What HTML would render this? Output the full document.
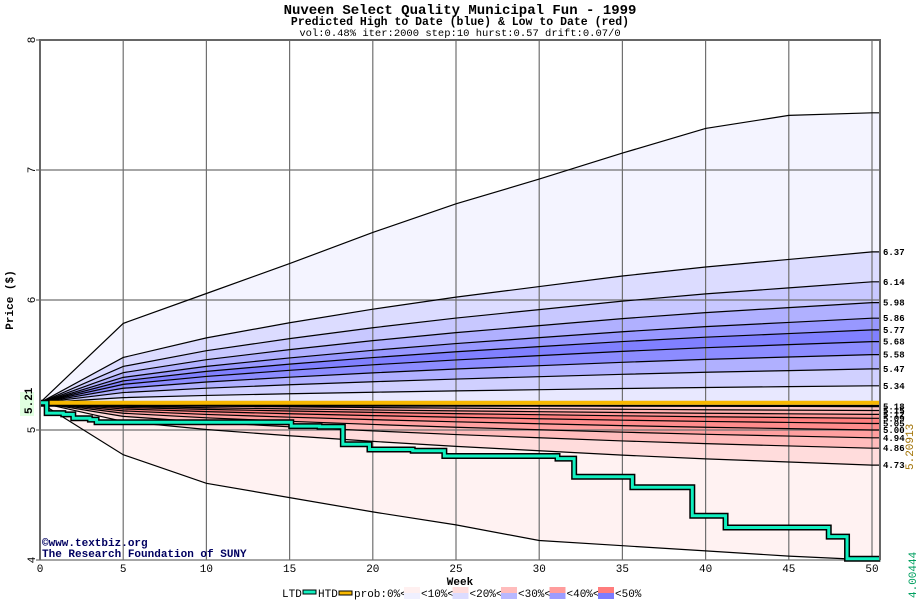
<!DOCTYPE html>
<html><head><meta charset="utf-8"><style>
body{margin:0;background:#fff;width:920px;height:600px;overflow:hidden}
svg text{font-family:"Liberation Mono","DejaVu Sans Mono",monospace}
</style></head><body>
<svg id="chart" width="920" height="600" xmlns="http://www.w3.org/2000/svg">
<text x="460" y="14" text-anchor="middle" font-size="14" font-weight="bold">Nuveen Select Quality Municipal Fun - 1999</text>
<text x="460" y="25" text-anchor="middle" font-size="11.5" font-weight="bold">Predicted High to Date (blue) &amp;  Low to Date (red)</text>
<text x="460" y="36" text-anchor="middle" font-size="10.5">vol:0.48% iter:2000 step:10 hurst:0.57 drift:0.07/0</text>
<g id="bands"></g><g id="grid"></g><g id="curves"></g><g id="series"></g><g id="axes"></g>
<text transform="translate(13,300) rotate(-90)" text-anchor="middle" font-size="11" font-weight="bold">Price ($)</text>
<text x="460" y="585" text-anchor="middle" font-size="11" font-weight="bold">Week</text>
<text x="42" y="546" font-size="11" font-weight="bold" fill="#000060">©www.textbiz.org</text>
<text x="42" y="557" font-size="11" font-weight="bold" fill="#000060">The Research Foundation of SUNY</text>
<rect x="20" y="392" width="14" height="24" fill="#e0ffe0"/>
<text transform="translate(32,414) rotate(-90)" font-size="11" font-weight="bold">5.21</text>
<text transform="translate(913,470) rotate(-90)" font-size="11" fill="#a07000">5.20913</text>
<text transform="translate(916,598) rotate(-90)" font-size="11" fill="#00a060">4.00444</text>
<g id="legend"></g>
</svg>
<script>
const weeks=[0,5,10,15,20,25,30,35,40,45,50];
const maxCurve=[5.21,5.82,6.05,6.28,6.52,6.74,6.93,7.13,7.32,7.42,7.44];
const minCurve=[5.21,4.81,4.59,4.48,4.37,4.27,4.15,4.11,4.07,4.03,4.00];
const shape=[0,0.3,0.43,0.53,0.62,0.7,0.77,0.84,0.9,0.95,1];
const upperEnds=[6.37,6.14,5.98,5.86,5.77,5.68,5.58,5.47,5.34];
const lowerEnds=[5.18,5.15,5.12,5.09,5.05,5.00,4.94,4.86,4.73];
const upperColors=["#f4f4ff","#dcdcff","#c8c8ff","#b0b0ff","#9898ff","#8080ff","#8c8cff","#b0b0ff","#d0d0ff","#e8e8ff"];
const lowerColors=["#ffe8e8","#ffc8c8","#ffb0b0","#ff9898","#ff8080","#ff8c8c","#ffa0a0","#ffbcbc","#ffdcdc","#fff2f2"];
const startPrice=5.21;
const htdValue=5.21;
const ltdWeeks=[0,0.4,1.4,2,3,3.4,15.1,16.8,18.2,19.8,22.4,24.3,31.1,32.1,35.6,39.2,41.2,47.4,48.5,50.5];
const ltdValues=[5.21,5.13,5.12,5.09,5.08,5.06,5.03,5.025,4.89,4.85,4.84,4.80,4.78,4.64,4.56,4.34,4.25,4.18,4.01,4.01];
const yTicks=[4,5,6,7,8];
const xTicks=[0,5,10,15,20,25,30,35,40,45,50];
const legendItems=["0%","<10%","<20%","<30%","<40%","<50%"];
const NS="http://www.w3.org/2000/svg";
const X0=40,X1=880,Y0=40,Y1=560;
const xs=w=>X0+w*(872-X0)/50;
const ys=p=>Y1-(p-4)*(Y1-Y0)/4;
function mk(tag,attrs,parent){const e=document.createElementNS(NS,tag);for(const k in attrs)e.setAttribute(k,attrs[k]);document.getElementById(parent).appendChild(e);return e;}
function curveVals(end){return shape.map(s=>startPrice+(end-startPrice)*s);}
function pts(vals){const p=weeks.map((w,i)=>xs(w)+","+ys(vals[i]));p.push(X1+","+ys(vals[vals.length-1]));return p;}
const upper=[maxCurve].concat(upperEnds.map(curveVals)).concat([weeks.map(()=>startPrice)]);
const lower=[weeks.map(()=>startPrice)].concat(lowerEnds.map(curveVals)).concat([minCurve]);
for(let i=0;i<upper.length-1;i++){
 const a=pts(upper[i]),b=pts(upper[i+1]).reverse();
 const e=mk("polygon",{points:a.concat(b).join(" "),fill:upperColors[i]},"bands");
 
 
}
for(let i=0;i<lower.length-1;i++){
 const a=pts(lower[i]),b=pts(lower[i+1]).reverse();
 const e=mk("polygon",{points:a.concat(b).join(" "),fill:lowerColors[i]},"bands");
 
 
}
xTicks.forEach(t=>{
 const l=mk("line",{x1:xs(t),x2:xs(t),y1:Y0,y2:Y1,stroke:"#707070","stroke-width":1.2},"grid");
 
 
 const tx=mk("text",{x:xs(t),y:572,"text-anchor":"middle","font-size":11},"axes");
 tx.textContent=t;
 
 
});
yTicks.forEach(t=>{
 const l=mk("line",{x1:X0-4,x2:X1,y1:ys(t),y2:ys(t),stroke:"#707070","stroke-width":1.2},"grid");
 
 
 const tx=mk("text",{transform:"translate(35,"+ys(t)+") rotate(-90)","text-anchor":"middle","font-size":11},"axes");
 tx.textContent=t;
 
 
});
upper.slice(0,upper.length-1).concat(lower.slice(1)).forEach((v,i)=>{
 const e=mk("polyline",{points:pts(v).join(" "),fill:"none",stroke:"#000","stroke-width":1.2},"curves");
 
 
});
upperEnds.concat(lowerEnds).forEach((v,i)=>{
 const t=mk("text",{x:883,y:ys(v)+3,"font-size":9,"font-weight":"bold"},"curves");
 t.textContent=v.toFixed(2);
 
 
});
let hl=mk("line",{x1:X0,x2:X1,y1:ys(htdValue)+3,y2:ys(htdValue)+3,stroke:"#000","stroke-width":2},"series");


let h=mk("line",{x1:X0,x2:X1,y1:ys(htdValue),y2:ys(htdValue),stroke:"#f8b800","stroke-width":4},"series");


let ltdPts=[];
ltdWeeks.forEach((w,i)=>{ if(i>0) ltdPts.push(xs(w)+","+ys(ltdValues[i-1])); ltdPts.push(xs(w)+","+ys(ltdValues[i])); });
let lo=mk("polyline",{points:ltdPts.join(" "),fill:"none",stroke:"#000","stroke-width":6},"series");


let li=mk("polyline",{points:ltdPts.join(" "),fill:"none",stroke:"#10f0c0","stroke-width":3},"series");


let ax=mk("path",{d:`M${X0},${Y1} V${Y0} H${X1} V${Y1}`,fill:"none",stroke:"#666","stroke-width":2},"axes");


// legend
const lg=[["LTD",284],["HTD",316]];
let t1=mk("text",{x:282,y:597,"font-size":11},"legend");t1.textContent="LTD";

let r1=mk("rect",{x:303,y:590,width:13,height:4,fill:"#10f0c0",stroke:"#000","stroke-width":1},"legend");

let t2=mk("text",{x:318,y:597,"font-size":11},"legend");t2.textContent="HTD";

let r2=mk("rect",{x:339,y:591,width:13,height:4,fill:"#f8b800",stroke:"#000","stroke-width":1},"legend");

let t3=mk("text",{x:354,y:597,"font-size":11},"legend");t3.textContent="prob:0%<";

const legR=["#fff0f0","#ffdcdc","#ffbcbc","#ff9c9c","#ff7c7c"],legB=["#f0f0ff","#dcdcff","#b8b8ff","#9c9cff","#7c7cff"];
legendItems.slice(1).forEach((s,i)=>{
 const x=404+i*48.5;
 const a=mk("rect",{x:x,y:587,width:16,height:6,fill:legR[i]},"legend");
 
 const b=mk("rect",{x:x,y:593,width:16,height:6,fill:legB[i]},"legend");
 
 const t=mk("text",{x:x+17,y:597,"font-size":11},"legend");
 t.textContent=s+(i<4?"<":"");
 
});
</script>
</body></html>
